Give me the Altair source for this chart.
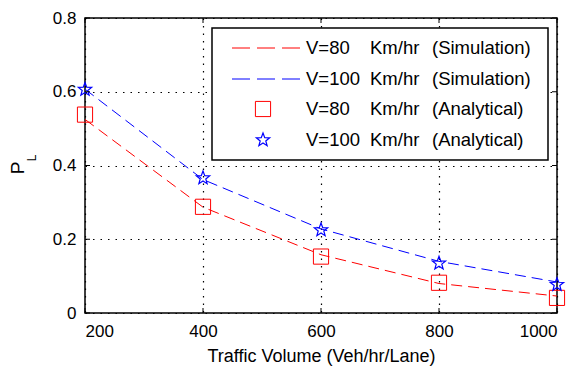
import math
import altair as alt
import pandas as pd

# ---------------- data ----------------
volume = [200, 400, 600, 800, 1000]
sim_v80 = [0.525, 0.287, 0.158, 0.080, 0.046]
sim_v100 = [0.607, 0.362, 0.228, 0.140, 0.084]
ana_v80 = [0.538, 0.288, 0.153, 0.082, 0.041]
ana_v100 = [0.606, 0.366, 0.225, 0.135, 0.077]

x_ticks = [200, 400, 600, 800, 1000]
y_ticks = [0, 0.2, 0.4, 0.6, 0.8]

legend_speed = ["V=80", "V=100", "V=80", "V=100"]
legend_unit = ["Km/hr", "Km/hr", "Km/hr", "Km/hr"]
legend_kind = ["(Simulation)", "(Simulation)", "(Analytical)", "(Analytical)"]

# ---------------- style ----------------
FONT = "Liberation Sans"
RED = "#ff0000"
BLUE = "#0000ff"
TOP = 18
W, H = 472, 313 - TOP

# five-pointed star path in unit coordinates
pts = []
for i in range(10):
    r = 1.0 if i % 2 == 0 else 0.42
    a = math.radians(-90 + 36 * i)
    pts.append(f"{r * math.cos(a):.3f},{r * math.sin(a):.3f}")
STAR = "M" + "L".join(pts) + "Z"

df = pd.DataFrame({
    "volume": volume,
    "sim80": sim_v80,
    "sim100": sim_v100,
    "ana80": ana_v80,
    "ana100": ana_v100,
})

xs = alt.Scale(domain=[200, 1000], nice=False)
ys = alt.Scale(domain=[0, 0.8], nice=False)

xaxis = alt.Axis(values=x_ticks, title="Traffic Volume (Veh/hr/Lane)", grid=True, format="d",
                 ticks=False, domain=False, labelPadding=10, titlePadding=8)
yaxis = alt.Axis(values=y_ticks, title=None, grid=True, format=".1~f",
                 ticks=False, domain=False, labelPadding=9)

base = alt.Chart(df)

X = alt.X("volume:Q", scale=xs, axis=xaxis)

line80 = base.mark_line(color=RED, strokeWidth=1, strokeDash=[11, 6]).encode(
    x=X, y=alt.Y("sim80:Q", scale=ys, axis=yaxis))
line100 = base.mark_line(color=BLUE, strokeWidth=1, strokeDash=[11, 6]).encode(
    x="volume:Q", y="sim100:Q")
pt80 = base.mark_point(shape="square", size=230, color=RED, strokeWidth=1, filled=False,
                       opacity=1).encode(x="volume:Q", y="ana80:Q")
pt100 = base.mark_point(shape=STAR, size=196, color=BLUE, strokeWidth=1.2, filled=False,
                        opacity=1).encode(x="volume:Q", y="ana100:Q")

# inward ticks
xt = alt.Chart(pd.DataFrame({"t": x_ticks}))
yt = alt.Chart(pd.DataFrame({"t": y_ticks}))
tick_style = dict(color="black", strokeWidth=1)
ticks_bottom = xt.mark_rule(**tick_style).encode(x="t:Q", y=alt.value(H), y2=alt.value(H - 5))
ticks_top = xt.mark_rule(**tick_style).encode(x="t:Q", y=alt.value(0), y2=alt.value(5))
ticks_left = yt.mark_rule(**tick_style).encode(y="t:Q", x=alt.value(0), x2=alt.value(5))
ticks_right = yt.mark_rule(**tick_style).encode(y="t:Q", x=alt.value(W), x2=alt.value(W - 5))

# y-axis title P_L
ytitle = alt.Chart(pd.DataFrame({"s": ["P"]})).mark_text(
    font=FONT, fontSize=19, angle=270, align="center", baseline="middle", color="black"
).encode(text="s:N", x=alt.value(-67), y=alt.value(168 - TOP))
ysub = alt.Chart(pd.DataFrame({"s": ["L"]})).mark_text(
    font=FONT, fontSize=12, angle=270, align="center", baseline="middle", color="black"
).encode(text="s:N", x=alt.value(-53), y=alt.value(158 - TOP))

# legend (pixel layout relative to the plot's top-left corner)
def py(page_y):
    return page_y - TOP

leg_box = alt.Chart(pd.DataFrame({"a": [0]})).mark_rect(
    fill="white", stroke="black", strokeWidth=1.5
).encode(x=alt.value(127), x2=alt.value(463), y=alt.value(py(28)), y2=alt.value(py(160)))

legend_layers = []
row_y = [48, 79, 109, 140]
for i in range(4):
    y = py(row_y[i])
    if i < 2:
        col = RED if i == 0 else BLUE
        legend_layers.append(
            alt.Chart(pd.DataFrame({"a": [0]})).mark_rule(
                color=col, strokeWidth=1, strokeDash=[18, 7]
            ).encode(x=alt.value(147), x2=alt.value(215), y=alt.value(y))
        )
    elif i == 2:
        legend_layers.append(
            alt.Chart(pd.DataFrame({"a": [0]})).mark_point(
                shape="square", size=230, color=RED, strokeWidth=1, filled=False, opacity=1
            ).encode(x=alt.value(178), y=alt.value(y))
        )
    else:
        legend_layers.append(
            alt.Chart(pd.DataFrame({"a": [0]})).mark_point(
                shape=STAR, size=196, color=BLUE, strokeWidth=1.2, filled=False, opacity=1
            ).encode(x=alt.value(178), y=alt.value(y))
        )
    row = pd.DataFrame({"speed": [legend_speed[i]], "unit": [legend_unit[i]],
                        "kind": [legend_kind[i]]})
    for field, xpos in (("speed", 221), ("unit", 285), ("kind", 347)):
        legend_layers.append(
            alt.Chart(row).mark_text(
                font=FONT, fontSize=18.5, align="left", baseline="middle", color="black"
            ).encode(text=f"{field}:N", x=alt.value(xpos), y=alt.value(y))
        )

chart = alt.layer(
    leg_box, line80, line100, pt80, pt100,
    ticks_bottom, ticks_top, ticks_left, ticks_right,
    ytitle, ysub, *legend_layers
).properties(
    width=W, height=H,
    autosize=alt.AutoSizeParams(type="none"),
    padding={"left": 77, "top": TOP - 8, "right": 12, "bottom": 58},
).configure_view(
    stroke="black", strokeWidth=1.5
).configure_axis(
    labelFont=FONT, labelFontSize=17, labelColor="black",
    titleFont=FONT, titleFontSize=18, titleColor="black", titleFontWeight="normal",
    gridColor="black", gridDash=[1.5, 6], gridWidth=1.2, gridOpacity=1,
)

chart.save("out.html", embed_options={"renderer": "svg", "actions": False})
